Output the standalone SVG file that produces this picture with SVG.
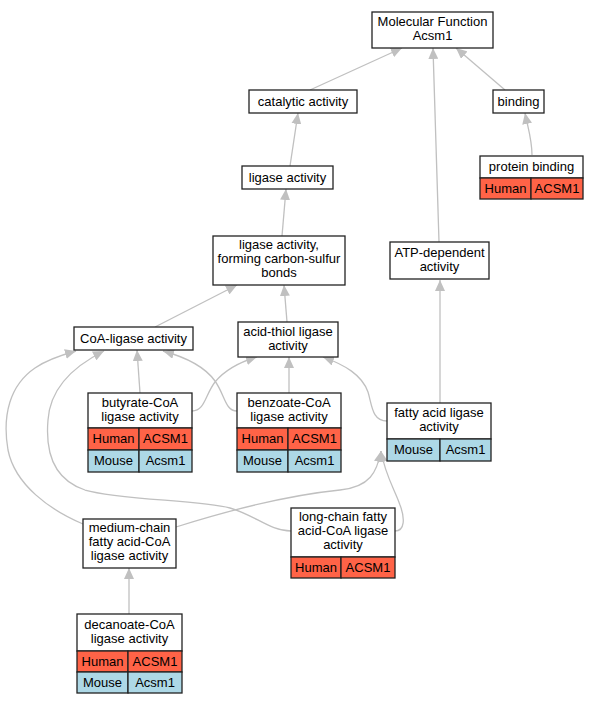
<svg xmlns="http://www.w3.org/2000/svg" width="600" height="704" viewBox="0 0 600 704">
<defs>
<marker id="arr" markerWidth="11" markerHeight="10" refX="11" refY="5" orient="auto" markerUnits="userSpaceOnUse"><path d="M0,0 L11,5 L0,10 z" fill="#c0c0c0"/></marker>
</defs>
<style>
.n{fill:#fff;stroke:#222;stroke-width:1.3}
.h{fill:#ff6347;stroke:#222;stroke-width:1.3}
.m{fill:#add8e6;stroke:#222;stroke-width:1.3}
text{font-family:"Liberation Sans",Arial,sans-serif;font-size:13px;text-anchor:middle;fill:#000}
.e path{fill:none;stroke:#c0c0c0;stroke-width:1.3;marker-end:url(#arr)}
</style>
<rect width="600" height="704" fill="#fff"/>
<g class="e" id="edges">
<path d="M310,90 L402,48"/>
<path d="M439,242 L433,48"/>
<path d="M505,90 L456,48"/>
<path d="M532,155 C532,140 528,128 525,113"/>
<path d="M290,166 L298,113"/>
<path d="M282,236 L286,189"/>
<path d="M155,327 L237,285"/>
<path d="M287,322 L284,285"/>
<path d="M440,403 L440,280"/>
<path d="M140,393 L137,350"/>
<path d="M192,411 C205,411 205,395 215,382 C225,370 240,362 257,357"/>
<path d="M289,393 L289,357"/>
<path d="M237,411 C225,411 225,395 215,381 C205,367 185,357 163,351"/>
<path d="M387,421 C372,421 372,405 368,392 C362,375 345,365 323,357"/>
<path d="M83,524 C50,510 15,485 8,450 C2,415 10,385 35,368 C45,361 58,356 76,351"/>
<path d="M176,527 C230,510 290,495 340,490 C370,487 377,472 381,451"/>
<path d="M291,531 C270,531 255,515 230,508 C200,500 120,500 85,490 C55,480 45,455 48,420 C50,390 70,368 104,351"/>
<path d="M395,531 C405,531 405,518 400,505 C395,490 385,475 381,451"/>
<path d="M129,614 L129,568"/>
</g>
<g id="mf"><rect class="n" x="372" y="12" width="121" height="36"/><text x="432.5" y="26">Molecular Function</text><text x="432.5" y="40">Acsm1</text></g>
<g id="catalytic"><rect class="n" x="249" y="90" width="108" height="23"/><text x="303" y="106">catalytic activity</text></g>
<g id="binding"><rect class="n" x="493" y="90" width="51" height="23"/><text x="518.5" y="106">binding</text></g>
<g id="protein"><rect class="n" x="480" y="156" width="103" height="22"/><text x="531.5" y="171">protein binding</text><rect class="h" x="480" y="178" width="51" height="21"/><rect class="h" x="531" y="178" width="52" height="21"/><text x="505.5" y="193">Human</text><text x="557" y="193">ACSM1</text></g>
<g id="ligase"><rect class="n" x="242" y="166" width="91" height="23"/><text x="287.5" y="182">ligase activity</text></g>
<g id="forming"><rect class="n" x="213" y="236" width="132" height="49"/><text x="279" y="249">ligase activity,</text><text x="279" y="263">forming carbon-sulfur</text><text x="279" y="277">bonds</text></g>
<g id="atp"><rect class="n" x="390" y="242" width="99" height="37"/><text x="439.5" y="257">ATP-dependent</text><text x="439.5" y="271">activity</text></g>
<g id="coa"><rect class="n" x="74" y="327" width="119" height="23"/><text x="133.5" y="343">CoA-ligase activity</text></g>
<g id="acidthiol"><rect class="n" x="238" y="322" width="100" height="35"/><text x="288" y="336">acid-thiol ligase</text><text x="288" y="350">activity</text></g>
<g id="butyrate"><rect class="n" x="88" y="393" width="104" height="35"/><text x="140" y="407">butyrate-CoA</text><text x="140" y="421">ligase activity</text><rect class="h" x="88" y="428" width="51" height="22"/><rect class="h" x="139" y="428" width="53" height="22"/><text x="113.5" y="443">Human</text><text x="165.5" y="443">ACSM1</text><rect class="m" x="88" y="450" width="51" height="22"/><rect class="m" x="139" y="450" width="53" height="22"/><text x="113.5" y="465">Mouse</text><text x="165.5" y="465">Acsm1</text></g>
<g id="benzoate"><rect class="n" x="237" y="393" width="104" height="35"/><text x="289" y="407">benzoate-CoA</text><text x="289" y="421">ligase activity</text><rect class="h" x="237" y="428" width="51" height="22"/><rect class="h" x="288" y="428" width="53" height="22"/><text x="262.5" y="443">Human</text><text x="314.5" y="443">ACSM1</text><rect class="m" x="237" y="450" width="51" height="22"/><rect class="m" x="288" y="450" width="53" height="22"/><text x="262.5" y="465">Mouse</text><text x="314.5" y="465">Acsm1</text></g>
<g id="fatty"><rect class="n" x="387" y="403" width="104" height="36"/><text x="439" y="417">fatty acid ligase</text><text x="439" y="431">activity</text><rect class="m" x="387" y="439" width="53" height="22"/><rect class="m" x="440" y="439" width="51" height="22"/><text x="413.5" y="454">Mouse</text><text x="465.5" y="454">Acsm1</text></g>
<g id="medium"><rect class="n" x="83" y="519" width="93" height="49"/><text x="129.5" y="532">medium-chain</text><text x="129.5" y="546">fatty acid-CoA</text><text x="129.5" y="560">ligase activity</text></g>
<g id="longchain"><rect class="n" x="291" y="508" width="104" height="49"/><text x="343" y="521">long-chain fatty</text><text x="343" y="535">acid-CoA ligase</text><text x="343" y="549">activity</text><rect class="h" x="291" y="557" width="50" height="21"/><rect class="h" x="341" y="557" width="54" height="21"/><text x="316" y="572">Human</text><text x="368" y="572">ACSM1</text></g>
<g id="decanoate"><rect class="n" x="77" y="614" width="105" height="37"/><text x="129.5" y="629">decanoate-CoA</text><text x="129.5" y="643">ligase activity</text><rect class="h" x="77" y="651" width="51" height="21"/><rect class="h" x="128" y="651" width="54" height="21"/><text x="102.5" y="666">Human</text><text x="155" y="666">ACSM1</text><rect class="m" x="77" y="672" width="51" height="21"/><rect class="m" x="128" y="672" width="54" height="21"/><text x="102.5" y="687">Mouse</text><text x="155" y="687">Acsm1</text></g>
</svg>
